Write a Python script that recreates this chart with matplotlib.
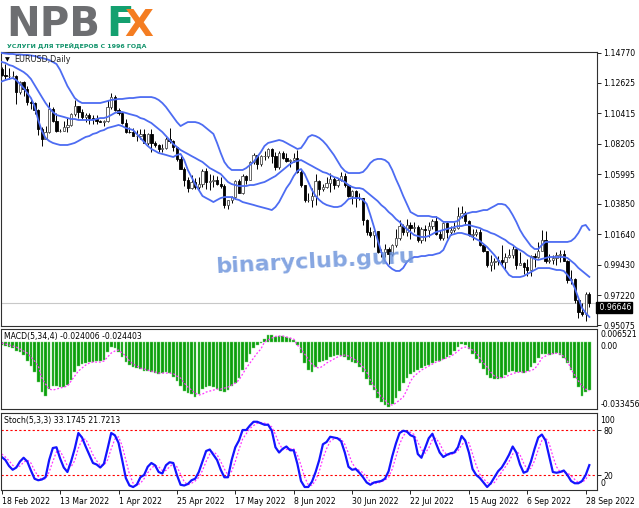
import matplotlib.pyplot as plt
import numpy as np

# EURUSD daily, 18 Feb 2022 - 29 Sep 2022
date_labels = ["18 Feb 2022", "13 Mar 2022", "1 Apr 2022", "25 Apr 2022", "17 May 2022",
               "8 Jun 2022", "30 Jun 2022", "22 Jul 2022", "15 Aug 2022", "6 Sep 2022",
               "28 Sep 2022"]
date_ticks = [0, 16, 32, 48, 64, 80, 96, 112, 128, 144, 160]

opens = [
    1.1360, 1.1320, 1.1307, 1.1308, 1.1308, 1.1193, 1.1268, 1.1218, 1.1123, 1.1118,
    1.1065, 1.0929, 1.0855, 1.0904, 1.1075, 1.0984, 1.0912, 1.0915, 1.0941, 1.0955,
    1.1036, 1.1093, 1.1050, 1.1016, 1.1030, 1.1005, 1.0997, 1.0984, 1.0980, 1.0984,
    1.1087, 1.1158, 1.1067, 1.1046, 1.0971, 1.0903, 1.0902, 1.0876, 1.0877, 1.0887,
    1.0827, 1.0889, 1.0825, 1.0810, 1.0780, 1.0788, 1.0854, 1.0837, 1.0794, 1.0713,
    1.0640, 1.0558, 1.0500, 1.0545, 1.0508, 1.0525, 1.0621, 1.0540, 1.0550, 1.0560,
    1.0530, 1.0512, 1.0380, 1.0410, 1.0435, 1.0550, 1.0465, 1.0588, 1.0560, 1.0690,
    1.0735, 1.0675, 1.0728, 1.0730, 1.0780, 1.0733, 1.0650, 1.0750, 1.0720, 1.0695,
    1.0705, 1.0715, 1.0615, 1.0518, 1.0410, 1.0415, 1.0445, 1.0550, 1.0495, 1.0510,
    1.0535, 1.0565, 1.0520, 1.0555, 1.0585, 1.0520, 1.0440, 1.0480, 1.0425, 1.0425,
    1.0265, 1.0183, 1.0160, 1.0185, 1.0037, 1.0035, 1.0060, 1.0020, 1.0085, 1.0140,
    1.0228, 1.0180, 1.0230, 1.0210, 1.0220, 1.0120, 1.0200, 1.0195, 1.0225, 1.0260,
    1.0165, 1.0140, 1.0245, 1.0180, 1.0196, 1.0212, 1.0298, 1.0320, 1.0258, 1.0160,
    1.0170, 1.0180, 1.0090, 1.0040, 0.9943, 0.9965, 0.9970, 0.9975, 0.9965, 1.0003,
    1.0015, 1.0055, 0.9945, 0.9955, 0.9925, 0.9905, 1.0010, 1.0000, 1.0040, 1.0120,
    0.9970, 0.9980, 0.9995, 1.0015, 1.0025, 0.9970, 0.9835, 0.9840, 0.9690, 0.9605,
    0.9590, 0.9735]
highs = [
    1.1373, 1.1395, 1.1366, 1.1345, 1.1318, 1.1274, 1.1276, 1.1240, 1.1152, 1.1125,
    1.1070, 1.0940, 1.0950, 1.1120, 1.1085, 1.1045, 1.0925, 1.0985, 1.1005, 1.1040,
    1.1137, 1.1096, 1.1068, 1.1045, 1.1040, 1.1030, 1.1030, 1.0990, 1.0990, 1.1135,
    1.1185, 1.1170, 1.1076, 1.1050, 1.0997, 1.0940, 1.0935, 1.0920, 1.0925, 1.0925,
    1.0895, 1.0925, 1.0840, 1.0820, 1.0815, 1.0867, 1.0936, 1.0850, 1.0800, 1.0730,
    1.0650, 1.0580, 1.0595, 1.0570, 1.0580, 1.0640, 1.0642, 1.0600, 1.0595, 1.0585,
    1.0577, 1.0530, 1.0415, 1.0445, 1.0560, 1.0565, 1.0600, 1.0595, 1.0697, 1.0750,
    1.0740, 1.0740, 1.0765, 1.0787, 1.0787, 1.0760, 1.0765, 1.0765, 1.0750, 1.0710,
    1.0750, 1.0775, 1.0630, 1.0520, 1.0460, 1.0500, 1.0600, 1.0560, 1.0530, 1.0580,
    1.0605, 1.0580, 1.0570, 1.0615, 1.0605, 1.0530, 1.0485, 1.0485, 1.0463, 1.0430,
    1.0275, 1.0220, 1.0190, 1.0190, 1.0060, 1.0095, 1.0075, 1.0095, 1.0200, 1.0270,
    1.0240, 1.0278, 1.0255, 1.0255, 1.0230, 1.0215, 1.0235, 1.0255, 1.0275, 1.0295,
    1.0195, 1.0255, 1.0250, 1.0225, 1.0250, 1.0360, 1.0368, 1.0330, 1.0265, 1.0200,
    1.0200, 1.0200, 1.0095, 1.0045, 1.0015, 0.9990, 1.0010, 1.0090, 1.0030, 1.0055,
    1.0080, 1.0060, 1.0035, 0.9965, 0.9985, 1.0015, 1.0030, 1.0110, 1.0197, 1.0185,
    1.0020, 1.0015, 1.0035, 1.0050, 1.0050, 0.9975, 0.9907, 0.9850, 0.9710, 0.9670,
    0.9745, 0.9750]
lows = [
    1.1308, 1.1290, 1.1289, 1.1305, 1.1106, 1.1180, 1.1168, 1.1100, 1.1069, 1.1038,
    1.0885, 1.0806, 1.0855, 1.0900, 1.0975, 1.0905, 1.0905, 1.0915, 1.0902, 1.0950,
    1.1020, 1.1003, 1.0998, 1.0980, 1.0963, 1.0965, 1.0965, 1.0975, 1.0945, 1.0980,
    1.1070, 1.1060, 1.1028, 1.0960, 1.0900, 1.0895, 1.0875, 1.0837, 1.0855, 1.0825,
    1.0810, 1.0757, 1.0800, 1.0760, 1.0760, 1.0780, 1.0822, 1.0770, 1.0695, 1.0635,
    1.0515, 1.0471, 1.0495, 1.0490, 1.0495, 1.0505, 1.0493, 1.0483, 1.0510, 1.0520,
    1.0500, 1.0355, 1.0350, 1.0390, 1.0420, 1.0460, 1.0455, 1.0532, 1.0560, 1.0670,
    1.0640, 1.0660, 1.0700, 1.0720, 1.0680, 1.0627, 1.0640, 1.0710, 1.0685, 1.0655,
    1.0690, 1.0610, 1.0505, 1.0398, 1.0400, 1.0360, 1.0380, 1.0450, 1.0480, 1.0500,
    1.0470, 1.0495, 1.0510, 1.0550, 1.0510, 1.0435, 1.0385, 1.0365, 1.0415, 1.0235,
    1.0160, 1.0145, 1.0070, 1.0030, 0.9998, 0.9998, 0.9952, 1.0005, 1.0075, 1.0120,
    1.0160, 1.0155, 1.0130, 1.0180, 1.0110, 1.0100, 1.0115, 1.0145, 1.0200, 1.0160,
    1.0125, 1.0120, 1.0140, 1.0160, 1.0180, 1.0200, 1.0285, 1.0235, 1.0150, 1.0120,
    1.0150, 1.0080, 1.0035, 0.9925, 0.9900, 0.9910, 0.9945, 0.9945, 0.9915, 0.9990,
    0.9990, 0.9910, 0.9940, 0.9875, 0.9865, 0.9865, 0.9930, 0.9990, 1.0040, 0.9955,
    0.9955, 0.9950, 0.9945, 0.9965, 0.9970, 0.9810, 0.9807, 0.9670, 0.9555, 0.9570,
    0.9536, 0.9635]
closes = [
    1.1320, 1.1307, 1.1308, 1.1308, 1.1193, 1.1268, 1.1218, 1.1123, 1.1118, 1.1065,
    1.0929, 1.0855, 1.0904, 1.1075, 1.0984, 1.0912, 1.0915, 1.0941, 1.0955, 1.1036,
    1.1093, 1.1050, 1.1016, 1.1030, 1.1005, 1.0997, 1.0984, 1.0980, 1.0984, 1.1087,
    1.1158, 1.1067, 1.1046, 1.0971, 1.0903, 1.0902, 1.0876, 1.0877, 1.0887, 1.0827,
    1.0889, 1.0825, 1.0810, 1.0780, 1.0788, 1.0854, 1.0837, 1.0794, 1.0713, 1.0640,
    1.0558, 1.0500, 1.0545, 1.0508, 1.0525, 1.0621, 1.0540, 1.0550, 1.0560, 1.0530,
    1.0512, 1.0380, 1.0410, 1.0435, 1.0550, 1.0465, 1.0588, 1.0560, 1.0690, 1.0735,
    1.0675, 1.0728, 1.0730, 1.0780, 1.0733, 1.0650, 1.0750, 1.0720, 1.0695, 1.0705,
    1.0715, 1.0615, 1.0518, 1.0410, 1.0415, 1.0445, 1.0550, 1.0495, 1.0510, 1.0535,
    1.0565, 1.0520, 1.0555, 1.0585, 1.0520, 1.0440, 1.0480, 1.0425, 1.0425, 1.0265,
    1.0183, 1.0160, 1.0185, 1.0037, 1.0035, 1.0060, 1.0020, 1.0085, 1.0140, 1.0228,
    1.0180, 1.0230, 1.0210, 1.0220, 1.0120, 1.0200, 1.0195, 1.0225, 1.0260, 1.0165,
    1.0140, 1.0245, 1.0180, 1.0196, 1.0212, 1.0298, 1.0320, 1.0258, 1.0160, 1.0170,
    1.0180, 1.0090, 1.0040, 0.9943, 0.9965, 0.9970, 0.9975, 0.9965, 1.0003, 1.0015,
    1.0055, 0.9945, 0.9955, 0.9925, 0.9905, 1.0010, 1.0000, 1.0040, 1.0120, 0.9970,
    0.9980, 0.9995, 1.0015, 1.0025, 0.9970, 0.9835, 0.9840, 0.9690, 0.9605, 0.9590,
    0.9735, 0.9665]

# Bollinger bands as drawn on the chart
bb_upper = [
    1.1477, 1.1473, 1.1470, 1.1470, 1.1466, 1.1466, 1.1463, 1.1463, 1.1459, 1.1455,
    1.1448, 1.1441, 1.1434, 1.1426, 1.1412, 1.1397, 1.1354, 1.1296, 1.1238, 1.1195,
    1.1151, 1.1129, 1.1115, 1.1115, 1.1115, 1.1115, 1.1115, 1.1115, 1.1122, 1.1129,
    1.1137, 1.1140, 1.1144, 1.1144, 1.1148, 1.1151, 1.1151, 1.1155, 1.1158, 1.1158,
    1.1158, 1.1158, 1.1151, 1.1137, 1.1115, 1.1086, 1.1050, 1.1014, 1.0977, 1.0948,
    1.0963, 1.0977, 1.0977, 1.0977, 1.0970, 1.0956, 1.0934, 1.0912, 1.0891, 1.0826,
    1.0753, 1.0688, 1.0652, 1.0630, 1.0630, 1.0630, 1.0630, 1.0644, 1.0666, 1.0688,
    1.0724, 1.0760, 1.0804, 1.0826, 1.0833, 1.0840, 1.0847, 1.0840, 1.0826, 1.0811,
    1.0797, 1.0782, 1.0789, 1.0826, 1.0869, 1.0883, 1.0876, 1.0862, 1.0840, 1.0811,
    1.0775, 1.0739, 1.0695, 1.0652, 1.0623, 1.0608, 1.0608, 1.0608, 1.0608, 1.0616,
    1.0644, 1.0681, 1.0702, 1.0710, 1.0710, 1.0702, 1.0681, 1.0630, 1.0565, 1.0507,
    1.0442, 1.0384, 1.0326, 1.0311, 1.0297, 1.0297, 1.0297, 1.0297, 1.0290, 1.0290,
    1.0275, 1.0254, 1.0254, 1.0254, 1.0254, 1.0261, 1.0290, 1.0311, 1.0319, 1.0326,
    1.0326, 1.0333, 1.0340, 1.0340, 1.0355, 1.0369, 1.0384, 1.0384, 1.0377, 1.0348,
    1.0304, 1.0254, 1.0196, 1.0152, 1.0116, 1.0080, 1.0058, 1.0058, 1.0087, 1.0109,
    1.0109, 1.0109, 1.0109, 1.0109, 1.0109, 1.0109, 1.0116, 1.0138, 1.0174, 1.0224,
    1.0232, 1.0196]
bb_middle = [
    1.1412, 1.1405, 1.1390, 1.1383, 1.1368, 1.1354, 1.1339, 1.1318, 1.1289, 1.1245,
    1.1202, 1.1158, 1.1115, 1.1079, 1.1050, 1.1028, 1.1021, 1.1014, 1.1006, 1.0999,
    1.0999, 1.0992, 1.0992, 1.0992, 1.0992, 1.0992, 1.0999, 1.1006, 1.1006, 1.1014,
    1.1028, 1.1043, 1.1050, 1.1050, 1.1043, 1.1035, 1.1028, 1.1021, 1.1006, 1.0999,
    1.0984, 1.0970, 1.0948, 1.0927, 1.0905, 1.0876, 1.0847, 1.0818, 1.0796, 1.0775,
    1.0760, 1.0746, 1.0731, 1.0717, 1.0702, 1.0688, 1.0666, 1.0644, 1.0630, 1.0615,
    1.0601, 1.0572, 1.0543, 1.0528, 1.0521, 1.0514, 1.0514, 1.0514, 1.0521, 1.0521,
    1.0528, 1.0536, 1.0543, 1.0557, 1.0572, 1.0586, 1.0608, 1.0630, 1.0652, 1.0673,
    1.0688, 1.0695, 1.0702, 1.0688, 1.0673, 1.0659, 1.0644, 1.0630, 1.0615, 1.0608,
    1.0594, 1.0579, 1.0572, 1.0557, 1.0543, 1.0521, 1.0507, 1.0499, 1.0499, 1.0492,
    1.0470, 1.0449, 1.0427, 1.0405, 1.0376, 1.0355, 1.0326, 1.0304, 1.0275, 1.0254,
    1.0224, 1.0203, 1.0181, 1.0159, 1.0152, 1.0145, 1.0145, 1.0152, 1.0166, 1.0181,
    1.0188, 1.0196, 1.0203, 1.0210, 1.0217, 1.0224, 1.0224, 1.0232, 1.0232, 1.0224,
    1.0217, 1.0210, 1.0196, 1.0188, 1.0174, 1.0166, 1.0152, 1.0137, 1.0123, 1.0101,
    1.0087, 1.0065, 1.0051, 1.0036, 1.0014, 1.0000, 0.9986, 0.9979, 0.9986, 0.9993,
    1.0000, 1.0000, 1.0000, 1.0000, 1.0000, 0.9993, 0.9971, 0.9950, 0.9921, 0.9899,
    0.9877, 0.9856]
bb_lower = [
    1.1271, 1.1281, 1.1289, 1.1296, 1.1281, 1.1253, 1.1224, 1.1188, 1.1151, 1.1093,
    1.0992, 1.0912, 1.0862, 1.0840, 1.0826, 1.0818, 1.0811, 1.0811, 1.0811, 1.0818,
    1.0826, 1.0840, 1.0855, 1.0869, 1.0876, 1.0891, 1.0898, 1.0912, 1.0919, 1.0934,
    1.0941, 1.0948, 1.0956, 1.0948, 1.0934, 1.0927, 1.0919, 1.0891, 1.0862, 1.0833,
    1.0804, 1.0782, 1.0768, 1.0753, 1.0746, 1.0739, 1.0731, 1.0724, 1.0739, 1.0746,
    1.0702, 1.0630, 1.0579, 1.0528, 1.0485, 1.0442, 1.0427, 1.0413, 1.0398, 1.0413,
    1.0427, 1.0434, 1.0434, 1.0434, 1.0420, 1.0413, 1.0398, 1.0391, 1.0384, 1.0377,
    1.0369, 1.0362, 1.0355, 1.0348, 1.0340, 1.0362, 1.0398, 1.0449, 1.0499, 1.0536,
    1.0586, 1.0623, 1.0637, 1.0601, 1.0543, 1.0485, 1.0442, 1.0413, 1.0391, 1.0377,
    1.0369, 1.0362, 1.0362, 1.0369, 1.0391, 1.0420, 1.0427, 1.0427, 1.0427, 1.0413,
    1.0384, 1.0304, 1.0217, 1.0123, 1.0037, 0.9971, 0.9935, 0.9913, 0.9899, 0.9899,
    0.9921, 0.9964, 0.9986, 1.0000, 1.0000, 1.0007, 1.0007, 1.0014, 1.0014, 1.0022,
    1.0029, 1.0051, 1.0109, 1.0159, 1.0166, 1.0174, 1.0174, 1.0166, 1.0159, 1.0145,
    1.0130, 1.0116, 1.0094, 1.0072, 1.0043, 1.0014, 0.9979, 0.9942, 0.9906, 0.9870,
    0.9855, 0.9855, 0.9855, 0.9862, 0.9877, 0.9891, 0.9906, 0.9920, 0.9920, 0.9920,
    0.9920, 0.9913, 0.9906, 0.9906, 0.9899, 0.9870, 0.9834, 0.9776, 0.9703, 0.9631,
    0.9595, 0.9566]

# MACD(5,34,4): histogram and signal
macd_hist = [
    -0.0015, -0.0020, -0.0025, -0.0030, -0.0045, -0.0050, -0.0065, -0.0095, -0.0120, -0.0150,
    -0.0200, -0.0250, -0.0270, -0.0235, -0.0220, -0.0220, -0.0225, -0.0225, -0.0215, -0.0190,
    -0.0150, -0.0120, -0.0110, -0.0105, -0.0100, -0.0100, -0.0095, -0.0095, -0.0090, -0.0050,
    -0.0025, -0.0030, -0.0050, -0.0075, -0.0100, -0.0115, -0.0125, -0.0130, -0.0135, -0.0145,
    -0.0145, -0.0150, -0.0155, -0.0160, -0.0155, -0.0150, -0.0155, -0.0175, -0.0195, -0.0220,
    -0.0245, -0.0255, -0.0260, -0.0275, -0.0260, -0.0235, -0.0225, -0.0220, -0.0225, -0.0235,
    -0.0245, -0.0250, -0.0240, -0.0220, -0.0205, -0.0180, -0.0140, -0.0100, -0.0060, -0.0030,
    -0.0015, -0.0005, 0.0015, 0.0035, 0.0035, 0.0025, 0.0030, 0.0030, 0.0025, 0.0020,
    0.0010, -0.0015, -0.0055, -0.0105, -0.0140, -0.0150, -0.0125, -0.0100, -0.0095, -0.0090,
    -0.0075, -0.0070, -0.0065, -0.0070, -0.0075, -0.0090, -0.0100, -0.0105, -0.0125, -0.0150,
    -0.0185, -0.0215, -0.0240, -0.0280, -0.0300, -0.0315, -0.0325, -0.0310, -0.0280, -0.0245,
    -0.0205, -0.0180, -0.0160, -0.0150, -0.0140, -0.0130, -0.0120, -0.0115, -0.0105, -0.0095,
    -0.0095, -0.0085, -0.0075, -0.0065, -0.0045, -0.0025, -0.0010, -0.0015, -0.0035, -0.0060,
    -0.0085, -0.0105, -0.0135, -0.0165, -0.0180, -0.0185, -0.0185, -0.0180, -0.0165, -0.0150,
    -0.0145, -0.0150, -0.0150, -0.0155, -0.0145, -0.0125, -0.0105, -0.0080, -0.0060, -0.0060,
    -0.0065, -0.0060, -0.0055, -0.0065, -0.0080, -0.0105, -0.0140, -0.0180, -0.0225, -0.0270,
    -0.0250, -0.024006]
macd_signal = [
    -0.0005, -0.0010, -0.0015, -0.0020, -0.0025, -0.0035, -0.0045, -0.0055, -0.0075, -0.0095,
    -0.0120, -0.0180, -0.0210, -0.0235, -0.0240, -0.0235, -0.0230, -0.0225, -0.0220, -0.0195,
    -0.0170, -0.0145, -0.0130, -0.0115, -0.0105, -0.0100, -0.0100, -0.0100, -0.0095, -0.0075,
    -0.0055, -0.0045, -0.0040, -0.0055, -0.0070, -0.0095, -0.0110, -0.0120, -0.0130, -0.0135,
    -0.0140, -0.0145, -0.0150, -0.0155, -0.0155, -0.0155, -0.0155, -0.0158, -0.0170, -0.0180,
    -0.0205, -0.0225, -0.0240, -0.0255, -0.0265, -0.0260, -0.0250, -0.0245, -0.0240, -0.0235,
    -0.0235, -0.0230, -0.0225, -0.0215, -0.0205, -0.0190, -0.0160, -0.0130, -0.0105, -0.0080,
    -0.0055, -0.0035, 0.0000, 0.0010, 0.0020, 0.0028, 0.0030, 0.0030, 0.0025, 0.0020,
    0.0015, -0.0015, -0.0035, -0.0060, -0.0085, -0.0110, -0.0125, -0.0130, -0.0120, -0.0105,
    -0.0095, -0.0085, -0.0075, -0.0068, -0.0065, -0.0070, -0.0080, -0.0090, -0.0105, -0.0125,
    -0.0150, -0.0190, -0.0220, -0.0250, -0.0275, -0.0290, -0.0310, -0.0315, -0.0305, -0.0290,
    -0.0275, -0.0240, -0.0195, -0.0170, -0.0155, -0.0140, -0.0130, -0.0120, -0.0110, -0.0100,
    -0.0095, -0.0085, -0.0078, -0.0072, -0.0060, -0.0045, -0.0030, -0.0025, -0.0030, -0.0040,
    -0.0055, -0.0080, -0.0105, -0.0125, -0.0150, -0.0170, -0.0178, -0.0178, -0.0175, -0.0165,
    -0.0158, -0.0152, -0.0150, -0.0150, -0.0148, -0.0142, -0.0135, -0.0110, -0.0080, -0.0070,
    -0.0060, -0.0058, -0.0056, -0.0060, -0.0072, -0.0095, -0.0135, -0.0165, -0.0195, -0.0220,
    -0.0235, -0.024403]

# Stochastic(5,3,3): main and signal
stoch_main = [
    44, 40, 32, 27, 30, 38, 43, 38, 26, 15,
    13, 14, 17, 40, 56, 57, 42, 30, 24, 38,
    55, 76, 70, 58, 47, 36, 34, 30, 35, 55,
    76, 73, 63, 40, 16, 6, 4, 7, 17, 20,
    31, 36, 33, 24, 22, 33, 37, 36, 20, 7,
    6, 8, 13, 15, 24, 38, 52, 54, 47, 40,
    27, 17, 17, 40, 57, 66, 80, 80, 86, 91,
    91, 89, 87, 87, 79, 57, 50, 55, 58, 53,
    53, 35, 12, 4, 4, 11, 24, 40, 61, 64,
    71, 70, 69, 65, 50, 31, 27, 28, 23, 17,
    10, 7, 10, 11, 12, 15, 25, 45, 62, 76,
    79, 78, 73, 71, 48, 43, 56, 69, 75, 62,
    50, 44, 47, 49, 50, 57, 72, 66, 50, 28,
    20, 16, 10, 4, 9, 17, 25, 30, 38, 47,
    58, 50, 34, 23, 25, 38, 55, 70, 74, 66,
    45, 24, 23, 24, 26, 20, 12, 9, 9, 12,
    20, 33.1745]
stoch_signal = [
    48, 44, 39, 33, 30, 32, 37, 40, 36, 26,
    18, 14, 15, 24, 38, 51, 52, 43, 32, 31,
    39, 56, 67, 68, 58, 47, 39, 33, 33, 40,
    55, 68, 71, 59, 40, 21, 9, 6, 9, 15,
    23, 29, 33, 31, 26, 26, 31, 35, 31, 21,
    11, 7, 9, 12, 17, 26, 38, 48, 51, 47,
    38, 28, 20, 25, 38, 54, 68, 75, 82, 86,
    89, 90, 89, 88, 84, 74, 62, 54, 54, 55,
    55, 47, 33, 17, 7, 6, 13, 25, 42, 55,
    65, 68, 70, 68, 61, 49, 36, 29, 26, 23,
    17, 11, 9, 9, 11, 13, 17, 28, 44, 61,
    72, 78, 77, 74, 64, 54, 49, 56, 67, 69,
    62, 52, 47, 47, 49, 52, 60, 65, 63, 48,
    33, 21, 15, 10, 8, 10, 17, 24, 31, 38,
    48, 52, 47, 36, 27, 29, 39, 54, 66, 70,
    62, 45, 31, 24, 24, 23, 19, 14, 10, 10,
    14, 21.7213]

price_ticks = [1.14770, 1.12625, 1.10415, 1.08205, 1.05995, 1.03850,
               1.01640, 0.99430, 0.97220, 0.95075]
last_price = 0.96646

W, H = 639, 508
fs = 5.6


def box(x0, y0, x1, y1):
    # pixel rectangle -> figure fraction
    return [x0 / W, 1 - y1 / H, (x1 - x0) / W, (y1 - y0) / H]


fig = plt.figure(figsize=(W / 100, H / 100), dpi=100)
fig.patch.set_facecolor("white")
ax_p = fig.add_axes(box(1, 52, 597, 326))
ax_m = fig.add_axes(box(1, 329, 597, 409))
ax_s = fig.add_axes(box(1, 413, 597, 490))

x = np.arange(len(closes))
o, h, l, c = (np.array(v) for v in (opens, highs, lows, closes))
up = c >= o
body_lo = np.minimum(o, c)
body_h = np.maximum(np.abs(c - o), 0.00015)

# --- price panel ---
ax_p.axhline(last_price, color="#c8c8c8", lw=0.8, zorder=0)
ax_p.vlines(x, l, h, color="black", lw=0.7, zorder=2)
ax_p.bar(x[up], body_h[up], bottom=body_lo[up], width=0.62, color="white",
         edgecolor="#505050", linewidth=0.6, zorder=3)
ax_p.bar(x[~up], body_h[~up], bottom=body_lo[~up], width=0.62, color="black",
         edgecolor="black", linewidth=0.6, zorder=3)
for band in (bb_upper, bb_middle, bb_lower):
    ax_p.plot(x, band, color="#4d6cf2", lw=1.3, zorder=4)

ax_p.set_xlim(-0.2, 163.1)
ax_p.set_ylim(0.95005, 1.14842)
ax_p.yaxis.tick_right()
ax_p.set_yticks(price_ticks)
ax_p.set_yticklabels([f"{t:.5f}" for t in price_ticks])
ax_p.tick_params(axis="y", direction="out", length=3, width=0.6, labelsize=fs, pad=1.5)
ax_p.set_xticks([])
ax_p.text(1.0, last_price, " 0.96646", transform=ax_p.get_yaxis_transform(),
          ha="left", va="top", color="white", fontsize=fs, clip_on=False,
          bbox=dict(facecolor="black", edgecolor="black", pad=0.8))

# --- MACD panel ---
ax_m.bar(x, macd_hist, width=0.72, color="#0b9e0b", edgecolor="#78d478", linewidth=0.3)
ax_m.plot(x, macd_signal, color="#ff33ff", lw=0.9, ls=(0, (1.5, 1.5)))
ax_m.set_xlim(-0.2, 163.1)
ax_m.set_ylim(-0.033456, 0.006521)
ax_m.set_xticks([])
ax_m.set_yticks([])
yt = ax_m.get_yaxis_transform()
ax_m.text(1.006, 0.985, "0.006521", transform=ax_m.transAxes, va="top", fontsize=fs)
ax_m.text(1.006, 0.0, "0.00", transform=yt, va="top", fontsize=fs)
ax_m.text(1.006, 0.0, "-0.033456", transform=ax_m.transAxes, va="bottom", fontsize=fs)

# --- Stochastic panel ---
ax_s.axhline(80, color="red", lw=0.8, ls=(0, (2, 2)))
ax_s.axhline(20, color="red", lw=0.8, ls=(0, (2, 2)))
ax_s.plot(x, stoch_signal, color="#ff33ff", lw=0.9, ls=(0, (1.5, 1.5)))
ax_s.plot(x, stoch_main, color="#1414ff", lw=1.6)
ax_s.set_xlim(-0.2, 163.1)
ax_s.set_ylim(0, 102.7)
ax_s.yaxis.tick_right()
ax_s.set_yticks([80, 20])
ax_s.set_yticklabels(["80", "20"])
ax_s.tick_params(axis="y", direction="out", length=3, width=0.6, labelsize=fs, pad=1.5)
ax_s.text(1.006, 0.96, "100", transform=ax_s.transAxes, va="top", fontsize=fs)
ax_s.text(1.006, 0.02, "0", transform=ax_s.transAxes, va="bottom", fontsize=fs)
ax_s.set_xticks(date_ticks)
ax_s.set_xticklabels(date_labels)
ax_s.tick_params(axis="x", direction="out", length=3, width=0.6, labelsize=fs, pad=2)
for lab in ax_s.get_xticklabels():
    lab.set_ha("left")

for ax in (ax_p, ax_m, ax_s):
    ax.set_facecolor("white")
    for sp in ax.spines.values():
        sp.set_color("#303030")
        sp.set_linewidth(0.8)

# indicator captions
fig.text(5 / W, 1 - 60 / H, "▼", fontsize=4.5, va="center", color="black")
fig.text(14 / W, 1 - 60 / H, "EURUSD,Daily", fontsize=5.8, va="center", color="#202020")
fig.text(4 / W, 1 - 336 / H, "MACD(5,34,4) -0.024006 -0.024403", fontsize=fs, va="center")
fig.text(4 / W, 1 - 420 / H, "Stoch(5,3,3) 33.1745 21.7213", fontsize=fs, va="center")

# logo
fig.text(6 / W, 1 - 36 / H, "NPB", fontsize=29, weight="bold", color="#6d6e71", va="baseline")
fig.text(106 / W, 1 - 36 / H, "F", fontsize=29, weight="bold", color="#14a06f", va="baseline")
fig.text(124 / W, 1 - 36 / H, "X", fontsize=27, weight="bold", color="#f47d22", va="baseline")
fig.text(7 / W, 1 - 48 / H, "УСЛУГИ ДЛЯ ТРЕЙДЕРОВ С 1996 ГОДА", fontsize=4.5, weight="bold",
         color="#12936b", va="baseline")

# watermark
fig.text(315 / W, 1 - 262 / H, "binaryclub.guru", fontsize=16, weight="bold",
         color="#7096dc", alpha=0.85, rotation=3, ha="center", va="center", zorder=10)

fig.savefig("out.png", dpi=100)
